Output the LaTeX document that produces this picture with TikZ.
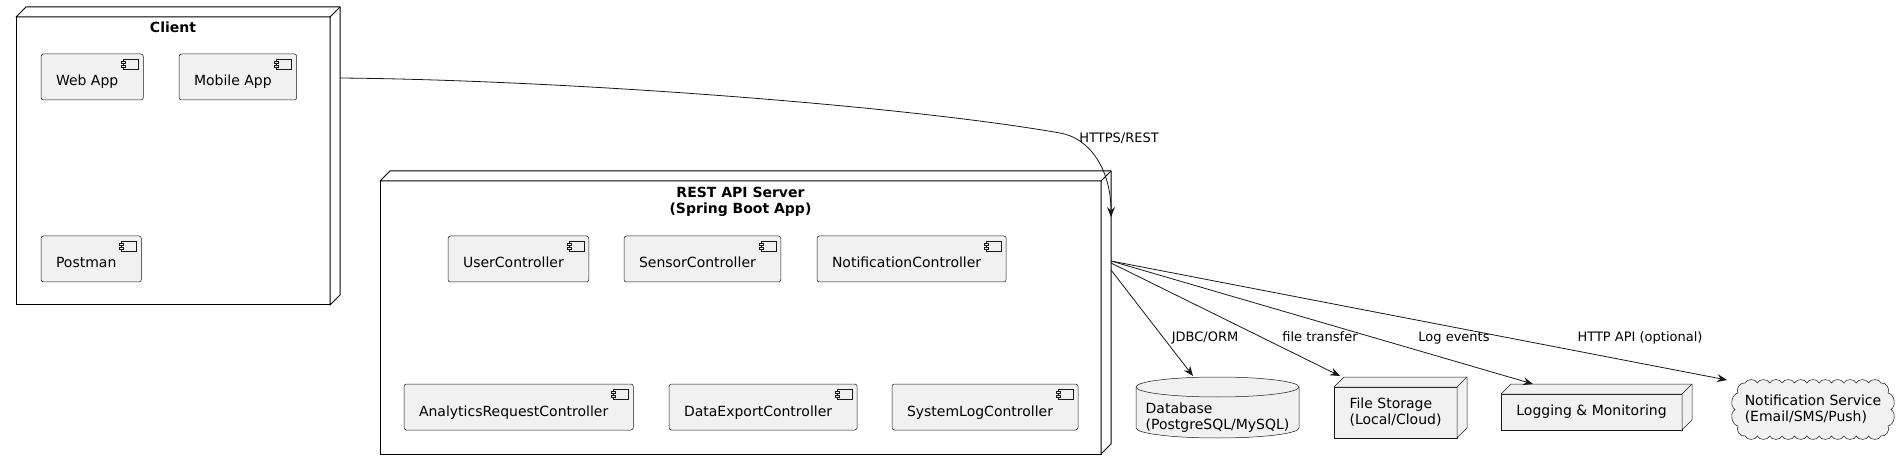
\documentclass[tikz,border=0pt]{standalone}
\usepackage{fontspec}
\setmainfont{DejaVu Sans}
\usetikzlibrary{arrows.meta,backgrounds}
\definecolor{cfill}{HTML}{F1F1F1}
\definecolor{cline}{HTML}{181818}
\newcommand\compicon[1]{%
  \draw[cline, line width=0.5pt, fill=cfill] ([shift={(-20,5)}]#1.north east) rectangle ([shift={(-5,15)}]#1.north east);
  \draw[cline, line width=0.5pt, fill=cfill] ([shift={(-22,7)}]#1.north east) rectangle ([shift={(-18,9)}]#1.north east);
  \draw[cline, line width=0.5pt, fill=cfill] ([shift={(-22,11)}]#1.north east) rectangle ([shift={(-18,13)}]#1.north east);}
\newcommand\boxdepth[2]{%
  \draw[#2] (#1.north west) -- ([shift={(10,-10)}]#1.north west) -- ([shift={(10,-10)}]#1.north east) -- ([shift={(10,-10)}]#1.south east) -- (#1.south east) -- (#1.north east) -- cycle;
  \draw[#2] (#1.north east) -- ([shift={(10,-10)}]#1.north east);}
\begin{document}
\begin{tikzpicture}[x=1pt,y=-1pt,
  every node/.style={font=\fontsize{14}{16}\selectfont, outer sep=0pt},
  container/.style={draw=black, line width=1pt, fill=white, anchor=north west, inner sep=0pt},
  depthstyle/.style={draw=black, line width=1pt, fill=white, line join=round},
  depthgray/.style={draw=cline, line width=0.5pt, fill=cfill, line join=round},
  comp/.style={draw=cline, line width=0.5pt, fill=cfill, rounded corners=2.5pt, anchor=north west,
    minimum height=46pt, inner xsep=0pt, inner ysep=0pt, text height=20pt, text depth=2pt},
  title/.style={font=\bfseries\fontsize{14}{16}\selectfont, inner sep=0pt, align=center, anchor=north},
  elab/.style={font=\fontsize{13}{15}\selectfont, inner sep=0pt, anchor=base},
  arr/.style={draw=cline, line width=0.8pt, -{Stealth[length=10pt,width=8pt,inset=3.5pt]}},
  plain/.style={draw=cline, line width=0.5pt, fill=cfill, anchor=north west, inner sep=0pt, align=left},
  outline/.style={draw=cline, line width=0.5pt, fill=cfill},
  bump/.style={bend left=70}
]
\useasboundingbox (0,0) rectangle (1904,470);
\begin{scope}[on background layer]
\fill[white] (0,0) rectangle (1904,470);
\end{scope}

% Client
\node[container, minimum width=314pt, minimum height=288pt] (client) at (16,17) {};
\boxdepth{client}{depthstyle}
\node[title] (clientT) at ([shift={(0,4.7)}]client.north) {Client};
\node[comp] (web) at (41,54) {\hspace*{15pt}Web App\hspace*{25pt}}; \compicon{web}
\node[comp] (mobile) at (179,54) {\hspace*{15pt}Mobile App\hspace*{25pt}}; \compicon{mobile}
\node[comp] (postman) at (41,236) {\hspace*{15pt}Postman\hspace*{25pt}}; \compicon{postman}

% Server
\node[container, minimum width=721pt, minimum height=273pt] (srv) at (380,181) {};
\boxdepth{srv}{depthstyle}
\node[title] (srvT) at ([shift={(0,6)}]srv.north) {REST API Server\\(Spring Boot App)};
\node[comp] (user) at (448,236) {\hspace*{15pt}UserController\hspace*{25pt}}; \compicon{user}
\node[comp] (sensor) at (624,236) {\hspace*{15pt}SensorController\hspace*{25pt}}; \compicon{sensor}
\node[comp] (notifc) at (817,236) {\hspace*{15pt}NotificationController\hspace*{25pt}}; \compicon{notifc}
\node[comp] (analytics) at (404,384) {\hspace*{15pt}AnalyticsRequestController\hspace*{25pt}}; \compicon{analytics}
\node[comp] (export) at (669,384) {\hspace*{15pt}DataExportController\hspace*{25pt}}; \compicon{export}
\node[comp] (syslog) at (892,384) {\hspace*{15pt}SystemLogController\hspace*{25pt}}; \compicon{syslog}

% Database
\node[inner sep=0pt, minimum width=163pt, minimum height=41pt, anchor=north west, align=left] (db) at (1136,397) {Database\\(PostgreSQL/MySQL)};
\begin{scope}[on background layer]
\path[outline] ([shift={(0,-10)}]db.north west) -- ([shift={(0,-10)}]db.south west)
  arc[start angle=180, end angle=360, x radius=81.5pt, y radius=10pt] -- ([shift={(0,-10)}]db.north east)
  arc[start angle=0, end angle=180, x radius=81.5pt, y radius=10pt] -- cycle;
\draw[cline, line width=0.5pt] ([shift={(0,-10)}]db.north west) arc[start angle=180, end angle=360, x radius=81.5pt, y radius=10pt];
\end{scope}

% File storage
\node[plain, minimum width=123pt, minimum height=51pt] (fs) at (1334,387) {File Storage\\(Local/Cloud)};
\boxdepth{fs}{depthgray}
% Logging
\node[plain, minimum width=181pt, minimum height=36pt] (log) at (1501,394) {Logging \& Monitoring};
\boxdepth{log}{depthgray}
% Cloud
\node[anchor=north west, inner sep=0pt, minimum width=158pt, minimum height=55pt, align=left] (cloud) at (1734,382)
  {Notification Service\\(Email/SMS/Push)};
\begin{scope}[on background layer]
\path[outline] (1745,383)
  to[bump] (1757.4,383) to[bump] (1769.7,383) to[bump] (1782.1,383) to[bump] (1794.5,383)
  to[bump] (1806.8,383) to[bump] (1819.2,383) to[bump] (1831.5,383) to[bump] (1843.9,383)
  to[bump] (1856.3,383) to[bump] (1868.6,383) to[bump] (1881,383)
  to[bump] (1888,393) to[bump] (1891,409.5) to[bump] (1888,426) to[bump] (1881,436)
  to[bump] (1868.6,436) to[bump] (1856.3,436) to[bump] (1843.9,436) to[bump] (1831.5,436)
  to[bump] (1819.2,436) to[bump] (1806.8,436) to[bump] (1794.5,436) to[bump] (1782.1,436)
  to[bump] (1769.7,436) to[bump] (1757.4,436) to[bump] (1745,436)
  to[bump] (1738,426) to[bump] (1735,409.5) to[bump] (1738,393) to[bump] (1745,383) -- cycle;
\end{scope}

% Connectors
\draw[arr] ([shift={(10,61)}]client.north east) .. controls (560,80) and (900,105) .. (1060,133)
  .. controls (1090,138) and (1111,170) .. ([shift={(10,36)}]srv.north east);
\draw[arr] ([shift={(10,89)}]srv.north east) -- ([shift={(57,-21)}]db.north west);
\draw[arr] ([shift={(10,82)}]srv.north east) -- ([shift={(6,-11)}]fs.north west);
\draw[arr] ([shift={(10,80)}]srv.north east) -- ([shift={(32,-10)}]log.north west);
\draw[arr] ([shift={(10,80)}]srv.north east) -- ([shift={(-7,-2)}]cloud.north west);

% Labels
\node[elab] (lhttps) at (1119,143) {HTTPS/REST};
\node[elab] (ljdbc) at (1205,341.5) {JDBC/ORM};
\node[elab] (lfile) at (1320,341.5) {file transfer};
\node[elab] (llog) at (1454,341.5) {Log events};
\node[elab] (lhttp) at (1640,341.5) {HTTP API (optional)};
\end{tikzpicture}
\end{document}
